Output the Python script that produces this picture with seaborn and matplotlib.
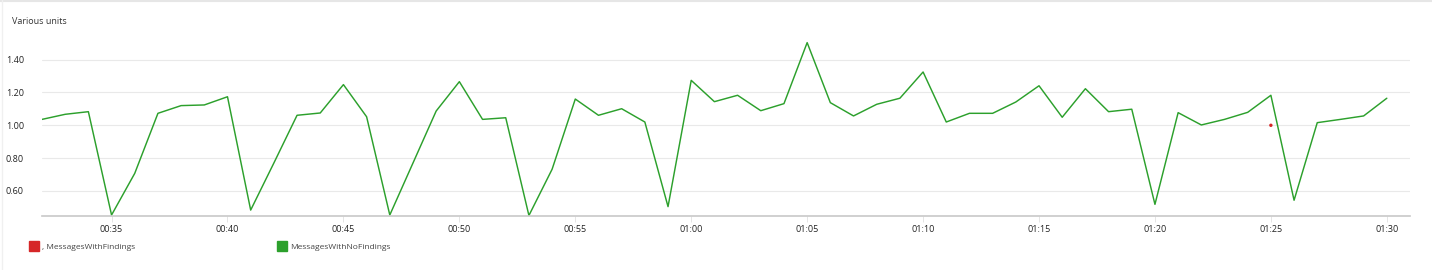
import matplotlib
matplotlib.use("Agg")
import matplotlib.pyplot as plt
import matplotlib.dates as mdates
from matplotlib.lines import Line2D
import seaborn as sns
import pandas as pd
import numpy as np

# ---- data ----
start_time = "2024-01-01 00:32"
no_findings = [1.036, 1.067, 1.083, 0.453, 0.707, 1.073, 1.120, 1.124, 1.174, 0.483,
               0.770, 1.061, 1.075, 1.248, 1.052, 0.453, 0.770, 1.087, 1.266, 1.036,
               1.046, 0.450, 0.732, 1.160, 1.061, 1.101, 1.020, 0.504, 1.274, 1.144,
               1.183, 1.089, 1.132, 1.504, 1.138, 1.057, 1.128, 1.165, 1.325, 1.020,
               1.073, 1.073, 1.142, 1.241, 1.049, 1.223, 1.083, 1.098, 0.518, 1.077,
               1.002, 1.036, 1.079, 1.183, 0.543, 1.016, 1.036, 1.057, 1.165]
findings_time = ["2024-01-01 01:25"]
findings_values = [1.0]
y_ticks = [0.60, 0.80, 1.00, 1.20, 1.40]
series_names = [", MessagesWithFindings", "MessagesWithNoFindings"]
unit_label = "Various units"

times = pd.date_range(start_time, periods=len(no_findings), freq="1min")
df = pd.DataFrame({"time": times, "value": no_findings})
df_red = pd.DataFrame({"time": pd.to_datetime(findings_time), "value": findings_values})

sns.set_theme(style="white")
plt.rcParams["font.family"] = ["Open Sans", "DejaVu Sans"]

green = "#2ca02c"
red = "#d62728"

fig = plt.figure(figsize=(14.32, 2.70), dpi=100)
ax = fig.add_axes([42 / 1432, 1 - 215.5 / 270, (1410 - 42) / 1432, (215.5 - 40) / 270])

sns.lineplot(data=df, x="time", y="value", ax=ax, color=green, linewidth=1.05)
sns.scatterplot(data=df_red, x="time", y="value", ax=ax, color=red, s=6,
                edgecolor="none", zorder=5)

ax.set_ylim(0.45, 1.52)
ax.set_xlim(pd.Timestamp("2024-01-01 00:32"), pd.Timestamp("2024-01-01 01:31"))
ax.set_yticks(y_ticks)
ax.yaxis.set_major_formatter(matplotlib.ticker.FormatStrFormatter("%.2f"))
ax.xaxis.set_major_locator(mdates.MinuteLocator(byminute=range(0, 60, 5)))
ax.xaxis.set_major_formatter(mdates.DateFormatter("%H:%M"))
ax.set_xlabel("")
ax.set_ylabel("")

ax.grid(axis="y", color="#e9e9e9", linewidth=0.8)
ax.set_axisbelow(True)
for s in ["top", "right", "left"]:
    ax.spines[s].set_visible(False)
ax.spines["bottom"].set_color("#c8c8c8")
ax.spines["bottom"].set_linewidth(1.2)

ax.tick_params(axis="x", bottom=True, length=4, width=0.6, color="#e0e0e0",
               labelsize=6.5, labelcolor="#222222", pad=3)
ax.tick_params(axis="y", left=False, labelsize=6.5, labelcolor="#222222", pad=7)

fig.text(12 / 1432, 1 - 22 / 270, unit_label, fontsize=6.5, color="#333333",
         ha="left", va="center")

handles = [Line2D([], [], marker="s", linestyle="none", markersize=7,
                  markerfacecolor=red, markeredgecolor=red),
           Line2D([], [], marker="s", linestyle="none", markersize=7,
                  markerfacecolor=green, markeredgecolor=green)]
fig.legend(handles, series_names, loc="center left",
           bbox_to_anchor=(30 / 1432, 1 - 247 / 270), ncol=2, frameon=False,
           fontsize=6, labelcolor="#444444", handletextpad=0.5,
           columnspacing=17, handlelength=1.0, borderpad=0, borderaxespad=0)

# thin frame lines at top and left of the image
fig.add_artist(Line2D([0, 1], [0.997, 0.997], transform=fig.transFigure,
                      color="#e6e6e6", linewidth=1.5))
fig.add_artist(Line2D([0.0015, 0.0015], [0, 1], transform=fig.transFigure,
                      color="#f0f0f0", linewidth=1))

fig.savefig("out.png", dpi=100, facecolor="white")
